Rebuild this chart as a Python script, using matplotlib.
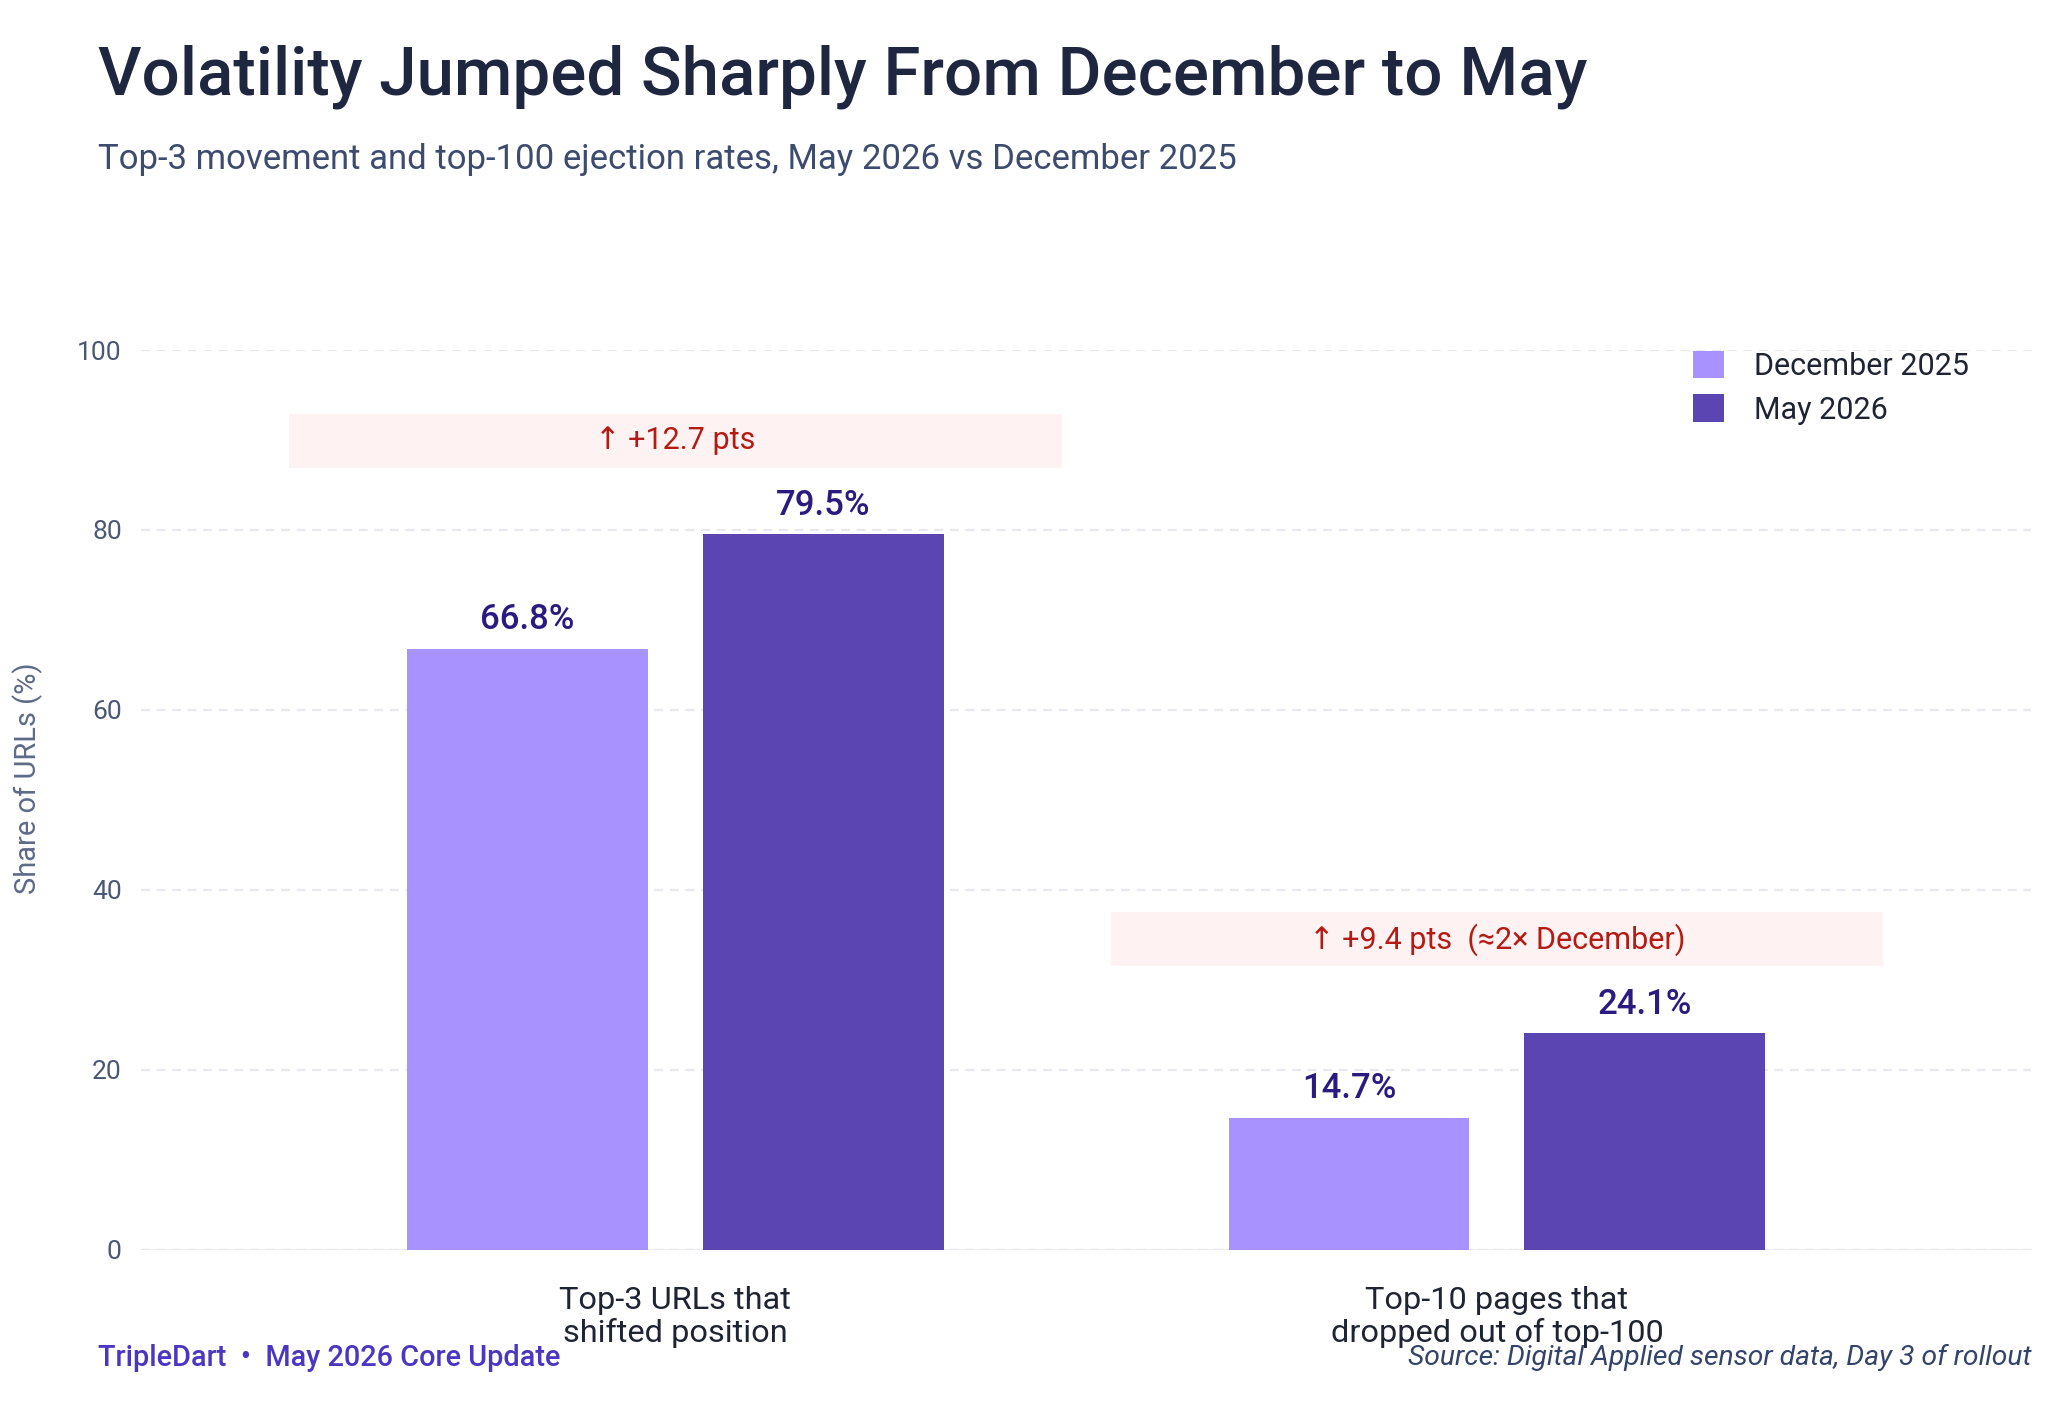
import numpy as np
import matplotlib
matplotlib.use("Agg")
from matplotlib import pyplot as plt
from matplotlib.patches import Rectangle

plt.rcParams['font.family'] = ['Roboto', 'DejaVu Sans']

categories = ["Top-3 URLs that\nshifted position", "Top-10 pages that\ndropped out of top-100"]
series_names = ["December 2025", "May 2026"]
dec_vals = [66.8, 14.7]
may_vals = [79.5, 24.1]
deltas = ["\u2191 +12.7 pts", "\u2191 +9.4 pts  (\u22482\u00d7 December)"]
yticks = [0, 20, 40, 60, 80, 100]

DEC_COLOR = "#a892fd"
MAY_COLOR = "#5b45b2"
LABEL_COLOR = "#2b1b80"

fig = plt.figure(figsize=(10.24, 7.065), dpi=200)
fig.patch.set_facecolor("white")
ax = fig.add_axes([0.069, 0.1155, 0.9227, 0.6368])

x = np.arange(len(categories))
w = 0.293
off = 0.18
b1 = ax.bar(x - off, dec_vals, w, color=DEC_COLOR, label=series_names[0], zorder=3)
b2 = ax.bar(x + off, may_vals, w, color=MAY_COLOR, label=series_names[1], zorder=3)

for bars, vals in ((b1, dec_vals), (b2, may_vals)):
    for rect, v in zip(bars, vals):
        ax.text(rect.get_x() + rect.get_width() / 2, v + 3.2, f"{v}%",
                ha="center", va="center", fontsize=12.5, fontweight="medium",
                color=LABEL_COLOR, zorder=4)

# delta annotation boxes above each group
for i, txt in enumerate(deltas):
    top = max(dec_vals[i], may_vals[i])
    yc = top + 10.4
    ax.add_patch(Rectangle((x[i] - 0.47, yc - 3.0), 0.94, 6.0,
                           facecolor="#fef2f2", edgecolor="none", zorder=2))
    ax.text(x[i], yc, txt, ha="center", va="center", fontsize=11,
            color="#b31b14", zorder=4)

ax.set_xlim(-0.65, 1.65)
ax.set_ylim(0, 100)
ax.set_yticks(yticks)
ax.set_yticklabels([str(t) for t in yticks], fontsize=9.5, color="#4b5875")
ax.set_xticks(x)
ax.set_xticklabels(categories, fontsize=11.7, color="#1f2433", linespacing=1.12)
ax.tick_params(axis="both", length=0)
ax.tick_params(axis="y", pad=7)
ax.tick_params(axis="x", pad=13)
ax.set_ylabel("Share of URLs (%)", fontsize=10.5, color="#5d6a88")
ax.yaxis.set_label_coords(-0.052, 0.524)

for s in ax.spines.values():
    s.set_visible(False)
ax.yaxis.grid(True, linestyle=(0, (4, 3)), color="#e8e8f2", linewidth=0.8, zorder=0)
ax.axhline(0, color="#eeeef4", linewidth=0.8, zorder=1)

leg = ax.legend(loc="upper right", bbox_to_anchor=(0.982, 1.03), frameon=False,
                fontsize=11, handlelength=1.0, handleheight=1.0,
                handletextpad=1.0, labelspacing=0.45)
for t in leg.get_texts():
    t.set_color("#1f2433")

fig.text(0.048, 0.946, "Volatility Jumped Sharply From December to May",
         fontsize=24.2, fontweight="medium", color="#1e2640", va="center")
fig.text(0.048, 0.887, "Top-3 movement and top-100 ejection rates, May 2026 vs December 2025",
         fontsize=12.5, color="#3d4c6e", va="center")

fig.text(0.048, 0.039, "TripleDart  \u2022  May 2026 Core Update", fontsize=10.4,
         fontweight="medium", color="#4a36c2", va="center")
fig.text(0.992, 0.039, "Source: Digital Applied sensor data, Day 3 of rollout", fontsize=10.2,
         style="italic", color="#34436a", va="center", ha="right")

fig.savefig("out.png", dpi=200, facecolor="white")
